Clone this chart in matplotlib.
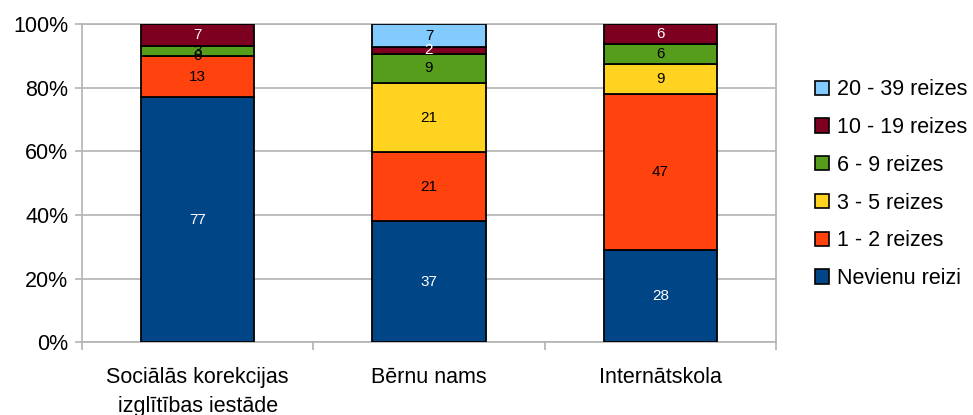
import numpy as np
import matplotlib
matplotlib.use("Agg")
import matplotlib.pyplot as plt
from matplotlib.patches import Patch

plt.rcParams['font.family'] = ['Liberation Sans', 'DejaVu Sans']

categories = ["Sociālās korekcijas\nizglītības iestāde", "Bērnu nams", "Internātskola"]
series_names = ["Nevienu reizi", "1 - 2 reizes", "3 - 5 reizes", "6 - 9 reizes",
                "10 - 19 reizes", "20 - 39 reizes"]
nevienu = [77, 37, 28]
r1_2 = [13, 21, 47]
r3_5 = [0, 21, 9]
r6_9 = [3, 9, 6]
r10_19 = [7, 2, 6]
r20_39 = [None, 7, None]
colors = ["#004586", "#ff420e", "#ffd320", "#579d1c", "#7e0021", "#83caff"]
label_colors = ["white", "black", "black", "black", "white", "black"]

series = [nevienu, r1_2, r3_5, r6_9, r10_19, r20_39]
vals = np.array([[np.nan if v is None else v for v in s] for s in series], dtype=float)
totals = np.nansum(vals, axis=0)
pct = vals / totals * 100

fig = plt.figure(figsize=(9.73, 4.15), dpi=100)
ax = fig.add_axes([0.0843, 0.1747, 0.7132, 0.7673])

x = np.arange(len(categories))
bottom = np.zeros(len(categories))
for i in range(len(series)):
    h = np.nan_to_num(pct[i])
    ax.bar(x, h, bottom=bottom, width=0.49, color=colors[i], edgecolor="black",
           linewidth=1.3, zorder=3)
    for j in range(len(categories)):
        if not np.isnan(vals[i, j]):
            ax.text(x[j], bottom[j] + h[j] / 2, f"{int(vals[i, j])}", ha="center",
                    va="center", fontsize=11, color=label_colors[i], zorder=4)
    bottom += h

ax.set_xlim(-0.5, 2.5)
ax.set_ylim(0, 100)
ax.set_yticks(np.arange(0, 101, 20))
ax.set_yticklabels([f"{v}%" for v in range(0, 101, 20)], fontsize=15.5)
ax.yaxis.grid(True, color="#b3b3b3", linewidth=1.2, zorder=0)
ax.set_xticks(x)
ax.set_xticklabels(categories, fontsize=15.5, linespacing=1.45)
ax.tick_params(axis="x", length=0, pad=18)
ax.set_xticks([-0.5, 0.5, 1.5, 2.5], minor=True)
ax.tick_params(axis="x", which="minor", length=6, color="#b3b3b3", width=1.2)
ax.tick_params(axis="y", length=5, color="#b3b3b3", width=1.2, pad=5)
for sp in ax.spines.values():
    sp.set_color("#b3b3b3")
    sp.set_linewidth(1.2)

handles = [Patch(facecolor=colors[i], edgecolor="black", linewidth=1.2)
           for i in range(len(series))][::-1]
fig.legend(handles, series_names[::-1], loc="center left", bbox_to_anchor=(0.838, 0.556),
           frameon=False, fontsize=15.5, handlelength=0.65, handleheight=0.65,
           handletextpad=0.35, labelspacing=0.78, borderaxespad=0, borderpad=0)

fig.savefig("out.png", dpi=100)
